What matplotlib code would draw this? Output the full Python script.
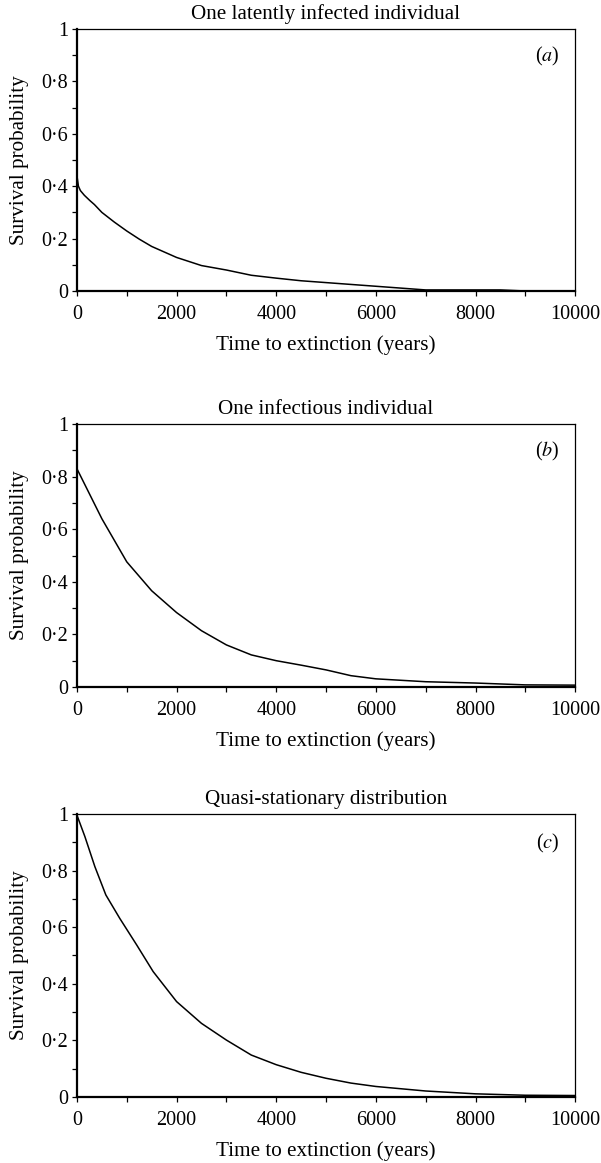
import numpy as np
import matplotlib
matplotlib.use("Agg")
import matplotlib.pyplot as plt
from matplotlib.ticker import MultipleLocator, FuncFormatter

plt.rcParams['font.family'] = ['Liberation Serif', 'DejaVu Serif']
plt.rcParams['mathtext.fontset'] = 'stix'

# survival curves
years_a = [0, 30, 70, 150, 260, 350, 500, 750, 1000, 1250, 1500, 2000, 2500,
           3000, 3500, 4000, 4500, 5000, 5500, 6000, 6500, 7000, 8500, 9000, 10000]
surv_a = [0.44, 0.40, 0.383, 0.365, 0.345, 0.33, 0.30, 0.263, 0.229, 0.198, 0.17,
          0.128, 0.097, 0.08, 0.06, 0.049, 0.039, 0.032, 0.025, 0.018, 0.011,
          0.004, 0.004, 0.0, 0.0]

years_b = [0, 500, 1000, 1500, 2000, 2500, 3000, 3500, 4000, 4500, 5000, 5500,
           6000, 7000, 8000, 9000, 10000]
surv_b = [0.83, 0.64, 0.476, 0.366, 0.283, 0.214, 0.16, 0.122, 0.1, 0.083, 0.065,
          0.043, 0.031, 0.02, 0.015, 0.008, 0.007]

years_c = [0, 160, 360, 580, 860, 1200, 1530, 2000, 2500, 3000, 3500, 4000,
           4500, 5000, 5500, 6000, 7000, 8000, 9000, 10000]
surv_c = [0.996, 0.92, 0.814, 0.714, 0.631, 0.537, 0.443, 0.337, 0.26, 0.201,
          0.148, 0.114, 0.087, 0.066, 0.049, 0.037, 0.021, 0.011, 0.006, 0.005]

titles = ["One latently infected individual", "One infectious individual",
          "Quasi-stationary distribution"]
tags = ["a", "b", "c"]

fig = plt.figure(figsize=(6.01, 11.63), dpi=100)
# axes boxes [left, bottom, width, height] in figure fractions
boxes = [[0.128, 0.7498, 0.829, 0.2253],
         [0.128, 0.4093, 0.829, 0.2261],
         [0.128, 0.0568, 0.829, 0.2433]]

fmt = FuncFormatter(lambda v, p: "0" if abs(v) < 1e-9 else
                    ("1" if abs(v - 1) < 1e-9 else f"{v:.1f}".replace(".", "\u00b7")))

for box, xs, ys, title, tag in zip(boxes, [years_a, years_b, years_c],
                                   [surv_a, surv_b, surv_c], titles, tags):
    ax = fig.add_axes(box)
    ax.plot(xs, ys, color='black', lw=1.1)
    ax.set_xlim(0, 10000)
    ax.set_ylim(0, 1)
    ax.xaxis.set_major_locator(MultipleLocator(2000))
    ax.xaxis.set_minor_locator(MultipleLocator(1000))
    ax.yaxis.set_major_locator(MultipleLocator(0.2))
    ax.yaxis.set_minor_locator(MultipleLocator(0.1))
    ax.yaxis.set_major_formatter(fmt)
    ax.tick_params(which='both', direction='out', length=3.5, width=0.9,
                   labelsize=14.5, pad=3)
    ax.tick_params(axis='x', which='major', pad=6.5)
    for s in ['left', 'bottom']:
        ax.spines[s].set_linewidth(1.6)
    for s in ['top', 'right']:
        ax.spines[s].set_linewidth(0.9)
    ax.set_title(title, fontsize=15.2, pad=7)
    ax.set_xlabel("Time to extinction (years)", fontsize=15.2, labelpad=8)
    ax.set_ylabel("Survival probability", fontsize=15.2, labelpad=9)
    ax.text(0.944, 0.895, "(" + "$\\mathit{" + tag + "}$" + ")", transform=ax.transAxes,
            ha='center', va='center', fontsize=14.5)

fig.savefig("out.png", dpi=100)
